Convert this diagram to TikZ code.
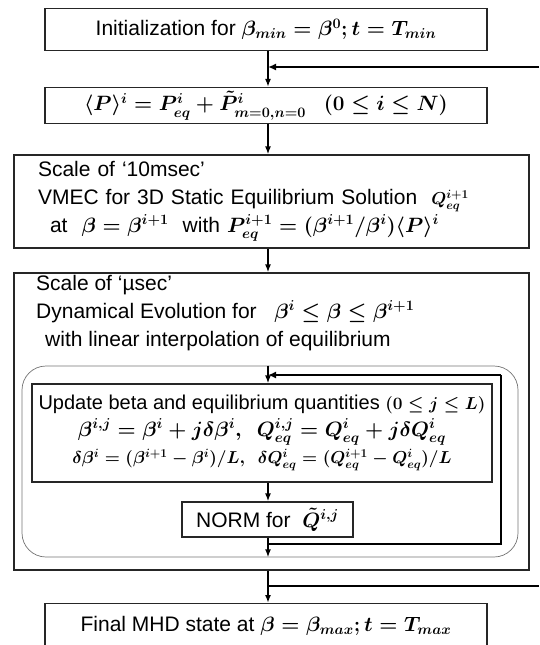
\documentclass[tikz,border=0pt]{standalone}
\usepackage{fontspec}
\setmainfont{Liberation Sans}
\usetikzlibrary{arrows.meta,positioning}

\tikzset{
  box/.style={draw=black!85,line width=1.2pt,inner sep=0pt},
  flow/.style={line width=1.8pt,-{Latex[length=8pt,width=6pt]}},
  loopline/.style={line width=2.8pt},
}

\begin{document}
\begin{tikzpicture}[x=1pt,y=-1pt,every node/.style={font=\fontsize{21}{28}\selectfont\boldmath}]
        \useasboundingbox (0,0) rectangle (539,645);
        \clip (0,0) rectangle (539,645);
        \coordinate (spine) at (268,0);

        % main chain
        \node[box,minimum width=442pt,minimum height=42pt] (init) at (266,29.5)
                {Initialization for $\beta_{min}=\beta^0;t=T_{min}$};
        \node[box,minimum width=442pt,minimum height=36pt,font=\fontsize{21.5}{28}\selectfont\boldmath] (avg) at (266,105.5)
                {$\langle P\rangle^i=P^i_{eq}+\tilde{P}^i_{m=0,n=0}\ \ \ (0\le i\le N)$};
        \node[box,minimum width=515pt,minimum height=93pt,align=left,text width=467pt] (vmec) at (271.5,201.5)
                {Scale of `10msec'\\
                 VMEC for 3D Static Equilibrium Solution\ \ {\fontsize{17}{20}\selectfont$Q^{i+1}_{eq}$}\\
                 \hspace{12pt}at\ \ $\beta=\beta^{i+1}$\ \ with $P^{i+1}_{eq}=(\beta^{i+1}/\beta^i)\langle P\rangle^i$};
        \node[box,minimum width=515pt,minimum height=297pt] (dyn) at (271.5,421.5) {};
        \node[anchor=north west,align=left,inner sep=0pt] (dyntxt) at (36,275)
                {Scale of `µsec'\\
                 Dynamical Evolution for\ \ \ $\beta^i\le\beta\le\beta^{i+1}$\\
                 \hspace{9pt}with linear interpolation of equilibrium};
        \node[draw=black!55,line width=0.7pt,rounded corners=24pt,minimum width=496pt,minimum height=191pt] (inner) at (270,461.5) {};
        \node[box,minimum width=460pt,minimum height=98pt,align=center,font=\fontsize{20}{27}\selectfont\boldmath] (update) at (262,433)
                {Update beta and equilibrium quantities {\fontsize{17}{20}\selectfont$(0\le j\le L)$}\\
                 $\beta^{i,j}=\beta^i+j\delta\beta^i,\ \ Q^{i,j}_{eq}=Q^i_{eq}+j\delta Q^i_{eq}$\\
                 {\fontsize{17}{20}\selectfont$\delta\beta^i=(\beta^{i+1}-\beta^i)/L,\ \ \delta Q^i_{eq}=(Q^{i+1}_{eq}-Q^i_{eq})/L$}};
        \node[box,minimum width=171pt,minimum height=35pt] (norm) at (267.5,519.5)
                {NORM for\ \ $\tilde{Q}^{i,j}$};
        \node[box,minimum width=442pt,minimum height=44pt,anchor=north] (final) at (266,603)
                {Final MHD state at $\beta=\beta_{max};t=T_{max}$};

        \draw[flow] (init.south -| spine) -- (avg.north -| spine);
        \draw[flow] (avg.south -| spine) -- (vmec.north -| spine);
        \draw[flow] (vmec.south -| spine) -- (dyn.north -| spine);
        \draw[flow] (inner.north -| spine) -- (update.north -| spine);
        \draw[flow] (update.south -| spine) -- (norm.north -| spine);
        \draw[flow] (norm.south -| spine) -- (inner.south -| spine);
        \draw[flow] (dyn.south -| spine) -- (final.north -| spine);

        % inner loop over j
        \coordinate (ijoin) at (268,544);
        \coordinate (icorner) at (501,375);
        \draw[loopline] (ijoin) -| (icorner);
        \draw[loopline,-{Latex[length=8pt,width=7pt]}] (icorner) -- (spine |- icorner);

        % outer loop over i
        \coordinate (rtop) at (539,67);
        \coordinate (rbot) at (539,586);
        \draw[loopline] (spine |- rbot) -- (rbot);
        \draw[loopline,-{Latex[length=8pt,width=7pt]}] (rtop) -- (spine |- rtop);
\end{tikzpicture}
\end{document}
